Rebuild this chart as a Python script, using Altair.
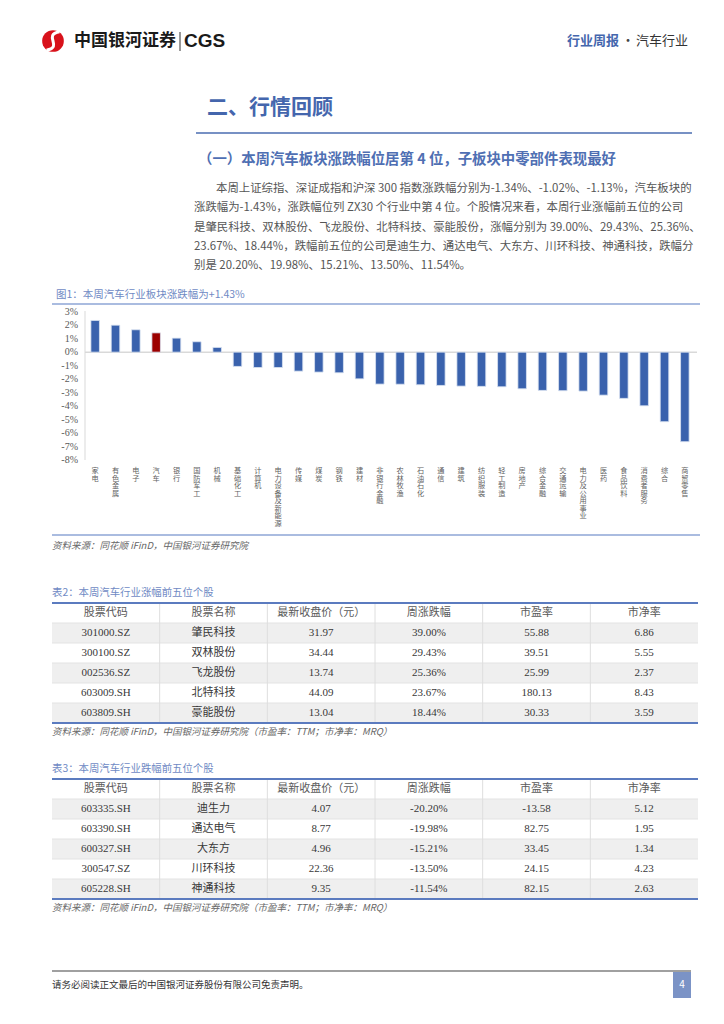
import altair as alt
import pandas as pd

# ---------------- data ----------------
industries = ["家电", "有色金属", "电子", "汽车", "银行", "国防军工", "机械", "基础化工", "计算机",
              "电力设备及新能源", "传媒", "煤炭", "钢铁", "建材", "非银行金融", "农林牧渔", "石油石化",
              "通信", "建筑", "纺织服装", "轻工制造", "房地产", "综合金融", "交通运输", "电力及公用事业",
              "医药", "食品饮料", "消费者服务", "综合", "商贸零售"]
changes = [2.35, 2.00, 1.66, 1.43, 1.04, 0.77, 0.35, -1.06, -1.14, -1.14, -1.41, -1.48, -1.53, -1.98,
           -2.37, -2.38, -2.42, -2.47, -2.52, -2.54, -2.57, -2.72, -2.84, -2.86, -2.89, -3.19, -3.43,
           -3.98, -5.16, -6.64]
y_ticks = [3, 2, 1, 0, -1, -2, -3, -4, -5, -6, -7, -8]

headers = ["股票代码", "股票名称", "最新收盘价（元）", "周涨跌幅", "市盈率", "市净率"]

up_codes = ["301000.SZ", "300100.SZ", "002536.SZ", "603009.SH", "603809.SH"]
up_names = ["肇民科技", "双林股份", "飞龙股份", "北特科技", "豪能股份"]
up_close = [31.97, 34.44, 13.74, 44.09, 13.04]
up_chg = [39.00, 29.43, 25.36, 23.67, 18.44]
up_pe = [55.88, 39.51, 25.99, 180.13, 30.33]
up_pb = [6.86, 5.55, 2.37, 8.43, 3.59]

down_codes = ["603335.SH", "603390.SH", "600327.SH", "300547.SZ", "605228.SH"]
down_names = ["迪生力", "通达电气", "大东方", "川环科技", "神通科技"]
down_close = [4.07, 8.77, 4.96, 22.36, 9.35]
down_chg = [-20.20, -19.98, -15.21, -13.50, -11.54]
down_pe = [-13.58, 82.75, 33.45, 24.15, 82.15]
down_pb = [5.12, 1.95, 1.34, 4.23, 2.63]

paragraph = [
    "本周上证综指、深证成指和沪深 300 指数涨跌幅分别为-1.34%、-1.02%、-1.13%，汽车板块的",
    "涨跌幅为-1.43%，涨跌幅位列 ZX30 个行业中第 4 位。个股情况来看，本周行业涨幅前五位的公司",
    "是肇民科技、双林股份、飞龙股份、北特科技、豪能股份，涨幅分别为 39.00%、29.43%、25.36%、",
    "23.67%、18.44%，跌幅前五位的公司是迪生力、通达电气、大东方、川环科技、神通科技，跌幅分",
    "别是 20.20%、19.98%、15.21%、13.50%、11.54%。",
]

# ---------------- helpers ----------------
W, H = 708, 1008
SANS = "Noto Sans CJK SC"
SERIF = "Liberation Serif, Noto Sans CJK SC"
BLUE = "#4466ad"
LINE_BLUE = "#8ea6d6"


def X(p):
    return p - 8


def Y(p):
    return p - 8


def label(text, x, y, size, color, weight="normal", align="left", font=SANS, style="normal"):
    return alt.Chart(pd.DataFrame({"t": [text]})).mark_text(
        align=align, baseline="middle", fontSize=size, color=color, fontWeight=weight,
        font=font, fontStyle=style
    ).encode(x=alt.value(X(x)), y=alt.value(Y(y)), text="t:N")


def hline(x1, x2, y, color, w):
    return alt.Chart(pd.DataFrame({"a": [0]})).mark_rule(color=color, strokeWidth=w).encode(
        x=alt.value(X(x1)), x2=alt.value(X(x2)), y=alt.value(Y(y)))


def vline(x, y1, y2, color, w):
    return alt.Chart(pd.DataFrame({"a": [0]})).mark_rule(color=color, strokeWidth=w).encode(
        x=alt.value(X(x)), y=alt.value(Y(y1)), y2=alt.value(Y(y2)))


def box(x1, x2, y1, y2, color):
    return alt.Chart(pd.DataFrame({"a": [0]})).mark_rect(color=color).encode(
        x=alt.value(X(x1)), x2=alt.value(X(x2)), y=alt.value(Y(y1)), y2=alt.value(Y(y2)))


layers = []

# ---------------- header ----------------
logo = alt.Chart(pd.DataFrame({"a": [0]})).mark_point(
    shape="circle", filled=True, color="#d8121b", size=470, opacity=1).encode(
    x=alt.value(X(53)), y=alt.value(Y(41)))
swoosh = alt.Chart(pd.DataFrame({"a": [0]})).mark_point(
    shape="M0.6,-0.85 C-1.0,-0.55 1.0,0.55 -0.6,0.85", filled=False, stroke="white",
    strokeWidth=3, size=470, opacity=1).encode(x=alt.value(X(53)), y=alt.value(Y(41)))
layers += [logo, swoosh,
           label("中国银河证券", 74, 41, 17, "#1a1a1a", weight="bold"),
           vline(180, 32, 51, "#333333", 1),
           label("CGS", 184, 41, 19, "#1a1a1a", weight="bold", font="Liberation Sans"),
           label("行业周报", 567, 41, 13, BLUE, weight="bold"),
           label("·", 628, 41, 13, "#444444", align="center"),
           label("汽车行业", 636, 41, 13, "#333333")]

# ---------------- section titles ----------------
layers += [label("二、行情回顾", 207, 108, 21, BLUE, weight="bold"),
           hline(196, 692, 133, "#4a6cb0", 1.5),
           label("（一）本周汽车板块涨跌幅位居第 4 位，子板块中零部件表现最好", 198, 160, 14.4, "#4f6fb3",
                 weight="bold")]

# ---------------- paragraph ----------------
para_df = pd.DataFrame({"line": paragraph, "n": list(range(len(paragraph)))})
para_df["indent"] = [1] + [0] * (len(paragraph) - 1)
para_scale_y = alt.Scale(domain=[0, 4], range=[Y(189), Y(266)], zero=False, nice=False)
para_scale_x = alt.Scale(domain=[0, 1], range=[X(194), X(216)], zero=False, nice=False)
layers.append(alt.Chart(para_df).mark_text(
    align="left", baseline="middle", fontSize=11.4, color="#555555", font=SANS).encode(
    x=alt.X("indent:Q", scale=para_scale_x, axis=None),
    y=alt.Y("n:Q", scale=para_scale_y, axis=None),
    text="line:N"))

# ---------------- bar chart ----------------
layers += [label("图1：本周汽车行业板块涨跌幅为+1.43%", 56, 295, 10.5, "#6f8ac4"),
           hline(52, 700, 304, LINE_BLUE, 1.5)]

bar_df = pd.DataFrame({"industry": industries, "change": changes})
bar_df["grp"] = ["汽车" if n == "汽车" else "其他" for n in industries]

# one row per character so that the category names read vertically
char_rows = []
for name in industries:
    for k, ch in enumerate(name):
        char_rows.append({"industry": name, "k": k, "ch": ch})
char_df = pd.DataFrame(char_rows)

xs = alt.Scale(type="band", domain=industries, range=[X(85), X(695)], paddingInner=0.58,
               paddingOuter=0.29)
ys = alt.Scale(domain=[-8, 3], range=[Y(460), Y(311.7)], nice=False, zero=False)
ks = alt.Scale(domain=[0, 10], range=[Y(471), Y(546)], nice=False, zero=False)

layers.append(vline(85, 311, 460, "#d9d9d9", 1))
bars = alt.Chart(bar_df).mark_bar(stroke="#dbe3f1", strokeWidth=0.8).encode(
    x=alt.X("industry:N", scale=xs, axis=None, sort=industries),
    y=alt.Y("change:Q", scale=ys, axis=None),
    y2=alt.datum(0),
    color=alt.Color("grp:N", scale=alt.Scale(domain=["其他", "汽车"], range=["#3a62ad", "#9c0000"]),
                    legend=None))
zero = alt.Chart(pd.DataFrame({"z": [0]})).mark_rule(color="#d9d9d9", strokeWidth=1.5).encode(
    y=alt.Y("z:Q", scale=ys, axis=None), x=alt.value(X(85)), x2=alt.value(X(697)))
tick_df = pd.DataFrame({"v": y_ticks, "lab": [f"{v}%" for v in y_ticks]})
ylab = alt.Chart(tick_df).mark_text(align="right", baseline="middle", fontSize=10, color="#595959",
                                    font="Liberation Serif").encode(
    x=alt.value(X(78)), y=alt.Y("v:Q", scale=ys, axis=None), text="lab:N")
xlab = alt.Chart(char_df).mark_text(align="center", baseline="middle", fontSize=7.2,
                                    color="#5f5f5f", font=SANS).encode(
    x=alt.X("industry:N", scale=xs, axis=None, sort=industries, bandPosition=0.5),
    y=alt.Y("k:Q", scale=ks, axis=None), text="ch:N")
layers += [zero, bars, ylab, xlab,
           hline(52, 700, 535, LINE_BLUE, 1.5),
           label("资料来源：同花顺 iFinD，中国银河证券研究院", 52, 546, 9.5, "#666666", style="italic")]


# ---------------- tables ----------------
def fmt(v, pct=False):
    return f"{v:.2f}%" if pct else f"{v:.2f}"


def table_layers(title, cols, top):
    out = [label(title, 52, top - 10, 10.4, "#6f8ac4")]
    rows = []
    for c, h in enumerate(headers):
        rows.append({"r": 0, "c": c, "t": h, "head": 1})
    for i in range(5):
        for c in range(6):
            rows.append({"r": i + 1, "c": c, "t": cols[c][i], "head": 0})
    df = pd.DataFrame(rows)
    xsc = alt.Scale(domain=[-0.5, 5.5], range=[X(52), X(698)], zero=False, nice=False)
    ysc = alt.Scale(domain=[-0.5, 5.5], range=[Y(top), Y(top + 120)], zero=False, nice=False)
    shade = pd.DataFrame({"r0": [0.5, 2.5, 4.5], "r1": [1.5, 3.5, 5.5]})
    out.append(alt.Chart(shade).mark_rect(color="#efefef").encode(
        y=alt.Y("r0:Q", scale=ysc, axis=None), y2="r1:Q",
        x=alt.value(X(52)), x2=alt.value(X(698))))
    rb = pd.DataFrame({"b": [0.5, 1.5, 2.5, 3.5, 4.5]})
    out.append(alt.Chart(rb).mark_rule(color="#e3e3e3", strokeWidth=1).encode(
        y=alt.Y("b:Q", scale=ysc, axis=None), x=alt.value(X(52)), x2=alt.value(X(698))))
    out.append(alt.Chart(rb).mark_rule(color="#dedede", strokeWidth=1).encode(
        x=alt.X("b:Q", scale=xsc, axis=None), y=alt.value(Y(top)), y2=alt.value(Y(top + 120))))
    out.append(alt.Chart(df).mark_text(align="center", baseline="middle", fontSize=11,
                                       font=SERIF).encode(
        x=alt.X("c:Q", scale=xsc, axis=None),
        y=alt.Y("r:Q", scale=ysc, axis=None),
        text="t:N",
        color=alt.Color("head:N", scale=alt.Scale(domain=[1, 0], range=["#5a5a5a", "#383838"]),
                        legend=None)))
    out.append(hline(52, 698, top, "#5b7bbf", 2))
    out.append(hline(52, 698, top + 120, "#5b7bbf", 2))
    out.append(label("资料来源：同花顺 iFinD，中国银河证券研究院（市盈率：TTM；市净率：MRQ）", 52, top + 129,
                     9.5, "#666666", style="italic"))
    return out


up_cols = [up_codes, up_names, [fmt(v) for v in up_close], [fmt(v, True) for v in up_chg],
           [fmt(v) for v in up_pe], [fmt(v) for v in up_pb]]
down_cols = [down_codes, down_names, [fmt(v) for v in down_close], [fmt(v, True) for v in down_chg],
             [fmt(v) for v in down_pe], [fmt(v) for v in down_pb]]

layers += table_layers("表2：本周汽车行业涨幅前五位个股", up_cols, 603)
layers += table_layers("表3：本周汽车行业跌幅前五位个股", down_cols, 779)

# ---------------- footer ----------------
layers += [hline(52, 691, 971, "#808080", 1.5),
           label("请务必阅读正文最后的中国银河证券股份有限公司免责声明。", 52, 985, 9.5, "#333333"),
           box(673, 691, 972, 998, "#7b93c6"),
           label("4", 682, 985, 10, "white", align="center")]

chart = alt.layer(*layers).resolve_scale(
    x="independent", y="independent", color="independent"
).properties(
    width=W, height=H, autosize=alt.AutoSizeParams(type="none"), padding=0
).configure_view(stroke=None)

chart.save("out.html", embed_options={"renderer": "svg", "actions": False})
